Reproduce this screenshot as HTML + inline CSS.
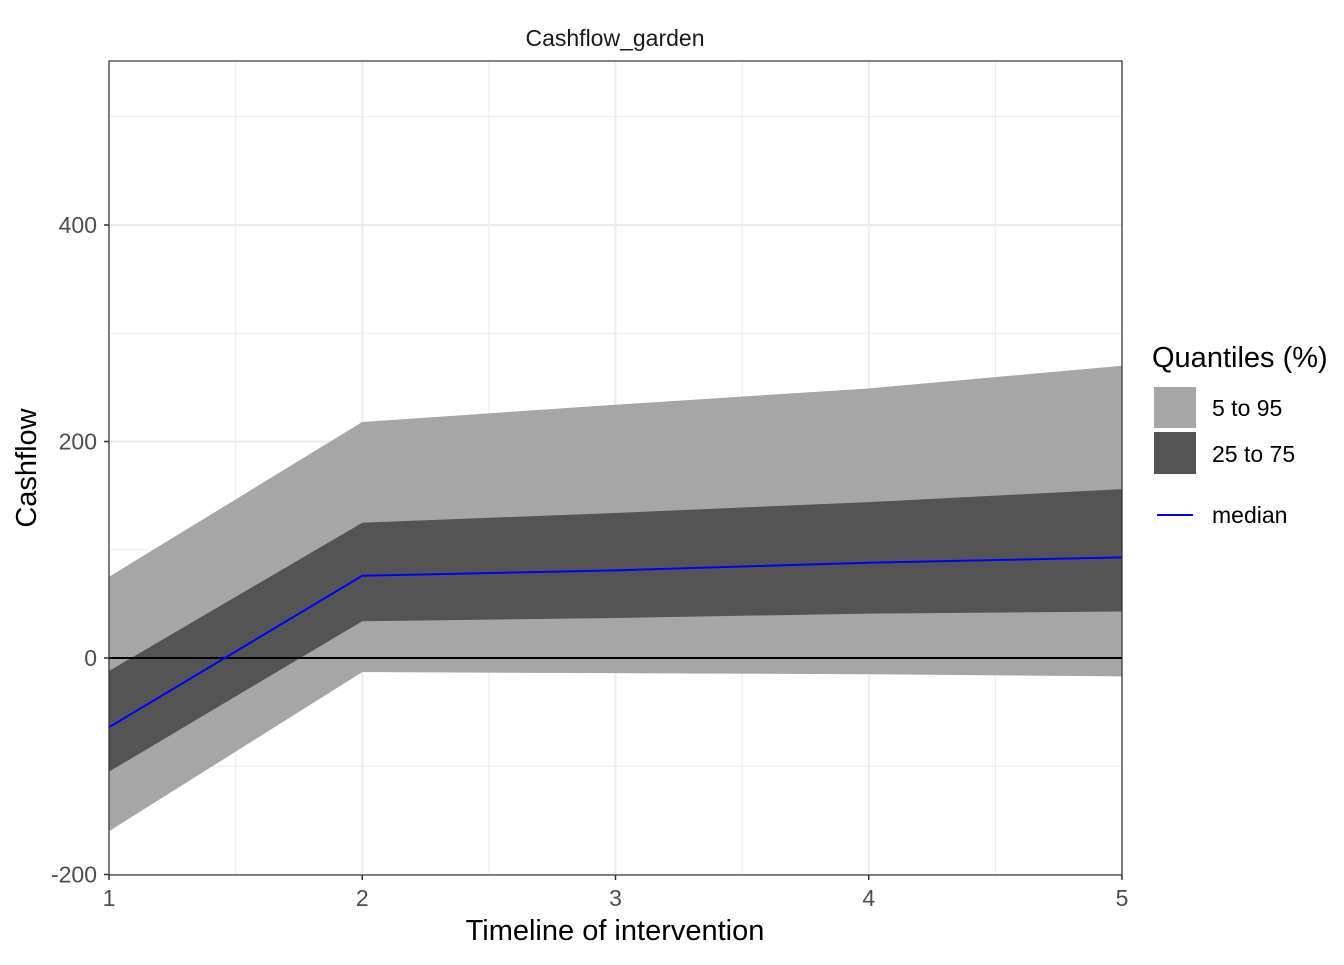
<!DOCTYPE html>
<html><head><meta charset="utf-8"><style>
body{margin:0;background:#fff}
svg{font-family:"Liberation Sans",Arial,sans-serif}
</style></head><body>
<svg id="chart" width="1344" height="960" xmlns="http://www.w3.org/2000/svg"></svg>
<script>
const xs=[1,2,3,4,5];
const p5=[-160,-13,-14,-15,-17];
const p25=[-105,34,37,41,43];
const median=[-64,76,81,88,93];
const p75=[-12,125,134,144,156];
const p95=[75,218,234,249,270];
const yTicks=[-200,0,200,400];
const yMinor=[-100,100,300,500];
const xTicks=[1,2,3,4,5];
const xMinor=[1.5,2.5,3.5,4.5];

const L=109,R=1122,T=61,B=875;
const X=v=>L+(v-1)*(R-L)/4;
const Y=v=>658-v*1.0825;
const NS="http://www.w3.org/2000/svg";
const svg=document.getElementById('chart');
function mk(tag,attrs,parent){const e=document.createElementNS(NS,tag);for(const k in attrs)e.setAttribute(k,attrs[k]);(parent||svg).appendChild(e);return e;}

mk('rect',{x:L,y:T,width:R-L,height:B-T,fill:'#fff'});
yMinor.forEach(v=>{const e=mk('line',{x1:L,x2:R,y1:Y(v),y2:Y(v),stroke:'#ebebeb','stroke-width':1});

});
xMinor.forEach(v=>{const e=mk('line',{x1:X(v),x2:X(v),y1:T,y2:B,stroke:'#ebebeb','stroke-width':1});

});
yTicks.forEach(v=>{const e=mk('line',{x1:L,x2:R,y1:Y(v),y2:Y(v),stroke:'#ebebeb','stroke-width':2});

});
xTicks.forEach(v=>{const e=mk('line',{x1:X(v),x2:X(v),y1:T,y2:B,stroke:'#ebebeb','stroke-width':2});

});

function band(lo,hi,fill,name){
  let d='M'+xs.map((x,i)=>X(x)+','+Y(hi[i])).join('L');
  d+='L'+xs.map((x,i)=>X(x)+','+Y(lo[i])).reverse().join('L')+'Z';
  const e=mk('path',{d:d,fill:fill});
  
  
}
band(p5,p95,'#a6a6a6','band-5-95');
band(p25,p75,'#545454','band-25-75');
const z=mk('line',{x1:L,x2:R,y1:Y(0),y2:Y(0),stroke:'#000','stroke-width':2});


const ml=mk('polyline',{points:xs.map((x,i)=>X(x)+','+Y(median[i])).join(' '),fill:'none',stroke:'#0000ff','stroke-width':2});


mk('rect',{x:L,y:T,width:R-L,height:B-T,fill:'none',stroke:'#333','stroke-width':1.2});

yTicks.forEach(v=>{
  mk('line',{x1:L-5,x2:L,y1:Y(v),y2:Y(v),stroke:'#333','stroke-width':1.5});
  const t=mk('text',{x:L-12,y:Y(v)+8,'text-anchor':'end','font-size':23,fill:'#4d4d4d'});t.textContent=v;
  
  
});
xTicks.forEach(v=>{
  mk('line',{x1:X(v),x2:X(v),y1:B,y2:B+5,stroke:'#333','stroke-width':1.5});
  const t=mk('text',{x:X(v),y:B+31,'text-anchor':'middle','font-size':23,fill:'#4d4d4d'});t.textContent=v;
  
  
});
</script>
<svg width="1344" height="960" style="position:absolute;left:0;top:0" xmlns="http://www.w3.org/2000/svg" font-family="Liberation Sans, Arial, sans-serif">
<text x="615" y="46" text-anchor="middle" font-size="23" fill="#1a1a1a">Cashflow_garden</text>
<text x="615" y="940" text-anchor="middle" font-size="29" fill="#000">Timeline of intervention</text>
<text transform="translate(36,468) rotate(-90)" text-anchor="middle" font-size="29" fill="#000">Cashflow</text>
<g>
<text x="1152" y="367" font-size="29" fill="#000">Quantiles (%)</text>
<rect x="1154" y="387" width="42" height="41" fill="#a6a6a6"/>
<text x="1212" y="416" font-size="23" fill="#000">5 to 95</text>
<rect x="1154" y="432" width="42" height="42" fill="#545454"/>
<text x="1212" y="462" font-size="23" fill="#000">25 to 75</text>
<line x1="1157" x2="1193" y1="515" y2="515" stroke="#0000ff" stroke-width="2"/>
<text x="1212" y="523" font-size="23" fill="#000">median</text>
</g>
</svg>
</body></html>
